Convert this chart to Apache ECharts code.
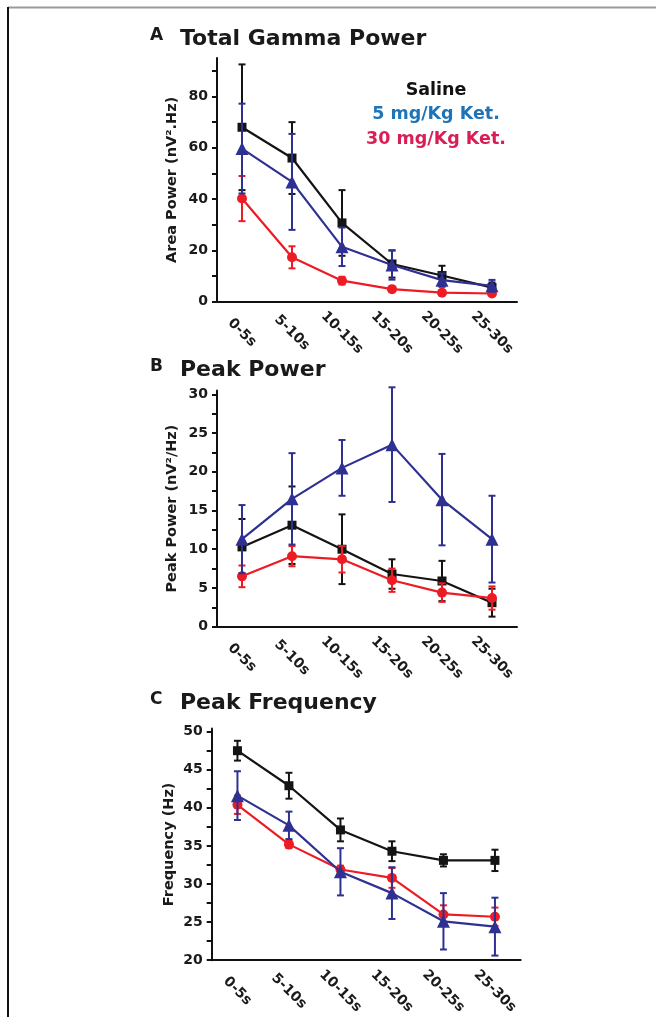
<!DOCTYPE html>
<html>
<head>
<meta charset="utf-8">
<script src="https://cdn.jsdelivr.net/npm/echarts@6/dist/echarts.min.js"></script>
<style>
html, body { margin: 0; padding: 0; background: #fff; }
#chart { width: 656px; height: 1017px; }
</style>
</head>
<body>
<div id="chart"></div>
<script>
var categories = ['0-5s', '5-10s', '10-15s', '15-20s', '20-25s', '25-30s'];

// A - total gamma power (nV2.Hz): mean and error half-width
var gammaSaline = [68, 56, 30.7, 14.7, 10.2, 5.5];
var gammaSalineErr = [24.5, 14, 12.8, 5.3, 3.8, 2];
var gammaKet5 = [59.7, 46.7, 21.4, 14.3, 8.4, 6.2];
var gammaKet5Err = [17.5, 18.7, 7.5, 5.7, 2.6, 2.3];
var gammaKet30 = [40.2, 17.3, 8.2, 4.9, 3.5, 3.2];
var gammaKet30Err = [8.8, 4.3, 1.5, 0.8, 0.7, 0.6];

// B - peak power (nV2/Hz)
var peakSaline = [10.3, 13.1, 10.0, 6.8, 5.9, 3.1];
var peakSalineErr = [3.6, 5.0, 4.5, 1.9, 2.6, 1.8];
var peakKet5 = [11.3, 16.5, 20.5, 23.5, 16.4, 11.3];
var peakKet5Err = [4.4, 5.9, 3.6, 7.4, 5.9, 5.6];
var peakKet30 = [6.5, 9.1, 8.7, 6.0, 4.4, 3.7];
var peakKet30Err = [1.4, 1.3, 1.7, 1.5, 1.2, 1.5];

// C - peak frequency (Hz)
var freqSaline = [47.5, 42.9, 37.1, 34.3, 33.1, 33.1];
var freqSalineErr = [1.3, 1.7, 1.5, 1.3, 0.8, 1.4];
var freqKet5 = [41.6, 37.7, 31.6, 28.8, 25.1, 24.4];
var freqKet5Err = [3.2, 1.8, 3.1, 3.4, 3.7, 3.8];
var freqKet30 = [40.4, 35.2, 31.9, 30.8, 26.0, 25.7];
var freqKet30Err = [1.2, 0.5, 0.5, 1.3, 1.2, 1.2];

var legendNames = ['Saline', '5 mg/Kg Ket.', '30 mg/Kg Ket.'];

var FONT = 'DejaVu Sans';
var BLACK = '#141414', BLUE = '#2e3192', RED = '#ed1c24';

var chart = echarts.init(document.getElementById('chart'));

function errorBars(mean, err) {
    var out = [];
    for (var i = 0; i < mean.length; i++) {
        out.push([i, mean[i] + err[i], mean[i] - err[i]]);
    }
    return out;
}

function makeErrorRender(color) {
    return function (params, api) {
        var top = api.coord([api.value(0), api.value(1)]);
        var bot = api.coord([api.value(0), api.value(2)]);
        var w = 3.5;
        var st = { stroke: color, lineWidth: 2 };
        return {
            type: 'group',
            children: [
                { type: 'line', shape: { x1: top[0], y1: top[1], x2: bot[0], y2: bot[1] }, style: st },
                { type: 'line', shape: { x1: top[0] - w, y1: top[1], x2: top[0] + w, y2: top[1] }, style: st },
                { type: 'line', shape: { x1: bot[0] - w, y1: bot[1], x2: bot[0] + w, y2: bot[1] }, style: st }
            ]
        };
    };
}

var series = [];
function addGroup(idx, mean, err, color, symbol, size, z) {
    series.push({
        type: 'custom',
        xAxisIndex: idx, yAxisIndex: idx,
        renderItem: makeErrorRender(color),
        data: errorBars(mean, err),
        z: z
    });
    series.push({
        type: 'line',
        xAxisIndex: idx, yAxisIndex: idx,
        data: mean,
        symbol: symbol,
        symbolSize: size,
        showAllSymbol: true,
        lineStyle: { color: color, width: 2.2 },
        itemStyle: { color: color, borderWidth: 0 },
        z: z
    });
}

var panels = [
    [gammaSaline, gammaSalineErr, gammaKet5, gammaKet5Err, gammaKet30, gammaKet30Err],
    [peakSaline, peakSalineErr, peakKet5, peakKet5Err, peakKet30, peakKet30Err],
    [freqSaline, freqSalineErr, freqKet5, freqKet5Err, freqKet30, freqKet30Err]
];
for (var p = 0; p < panels.length; p++) {
    var d = panels[p];
    addGroup(p, d[0], d[1], BLACK, 'rect', 9, 2);
    addGroup(p, d[4], d[5], RED, 'circle', 10, 3);
    addGroup(p, d[2], d[3], BLUE, 'triangle', 13, 4);
}

var axisLine = { lineStyle: { color: '#111', width: 2 } };
var labelStyle = { fontFamily: FONT, fontWeight: 'bold', fontSize: 14, color: '#1a1a1a' };

function xAxis(idx) {
    return {
        type: 'category', gridIndex: idx, data: categories,
        axisLine: axisLine,
        axisTick: { alignWithLabel: true, length: 5, lineStyle: { width: 2, color: '#111' } },
        axisLabel: Object.assign({ rotate: -45, margin: 31, align: 'center', verticalAlign: 'middle', interval: 0 }, labelStyle)
    };
}

function yAxis(idx, min, max, interval, labels, ticks, name, gap) {
    return {
        type: 'value', gridIndex: idx, min: min, max: max, interval: interval,
        name: name, nameLocation: 'middle', nameGap: gap,
        nameTextStyle: { fontFamily: FONT, fontWeight: 'bold', fontSize: 14.5, color: '#1a1a1a' },
        splitLine: { show: false },
        axisLine: { show: true, lineStyle: { color: '#111', width: 2 } },
        axisTick: { show: true, length: 5, customValues: ticks, lineStyle: { width: 2, color: '#111' } },
        axisLabel: Object.assign({ margin: 9, customValues: labels }, labelStyle)
    };
}

function range(a, b, step) {
    var out = [];
    for (var v = a; v <= b + 1e-9; v += step) out.push(v);
    return out;
}

function titleText(x, y, letter, text) {
    return [
        { type: 'text', x: x, y: y - 3, style: { text: letter, font: 'bold 17px ' + FONT, fill: '#1a1a1a', verticalAlign: 'middle' } },
        { type: 'text', x: x + 30, y: y, style: { text: text, font: 'bold 22px ' + FONT, fill: '#1a1a1a', verticalAlign: 'middle' } }
    ];
}

var graphics = [
    { type: 'line', shape: { x1: 8, y1: 7.5, x2: 656, y2: 7.5 }, style: { stroke: '#9a9a9a', lineWidth: 2 } },
    { type: 'line', shape: { x1: 8, y1: 7, x2: 8, y2: 1017 }, style: { stroke: '#111', lineWidth: 2 } },
    { type: 'text', x: 436, y: 90, style: { text: legendNames[0], font: 'bold 17.5px ' + FONT, fill: '#111', align: 'center', verticalAlign: 'middle' } },
    { type: 'text', x: 436, y: 114.5, style: { text: legendNames[1], font: 'bold 17.5px ' + FONT, fill: '#1f74b8', align: 'center', verticalAlign: 'middle' } },
    { type: 'text', x: 436, y: 139, style: { text: legendNames[2], font: 'bold 17.5px ' + FONT, fill: '#d81f55', align: 'center', verticalAlign: 'middle' } }
].concat(titleText(150, 39, 'A', 'Total Gamma Power'))
 .concat(titleText(150, 370, 'B', 'Peak Power'))
 .concat(titleText(150, 703, 'C', 'Peak Frequency'));

var option = {
    animation: false,
    backgroundColor: '#fff',
    grid: [
        { left: 217, top: 58, width: 300, height: 243.7 },
        { left: 217, top: 390.4, width: 300, height: 236.3 },
        { left: 211.7, top: 728.6, width: 309, height: 235.7 }
    ],
    xAxis: [xAxis(0), xAxis(1), xAxis(2)],
    yAxis: [
        yAxis(0, 0, 95, 20, [0, 20, 40, 60, 80], range(0, 90, 10), 'Area Power (nV\u00b2.Hz)', 37),
        yAxis(1, 0, 30.5, 5, range(0, 30, 5), range(0, 30, 2.5), 'Peak Power (nV\u00b2/Hz)', 37),
        yAxis(2, 20, 50.4, 5, range(20, 50, 5), range(20, 50, 2.5), 'Frequency (Hz)', 35)
    ],
    graphic: graphics,
    series: series
};
chart.setOption(option);
</script>
</body>
</html>
